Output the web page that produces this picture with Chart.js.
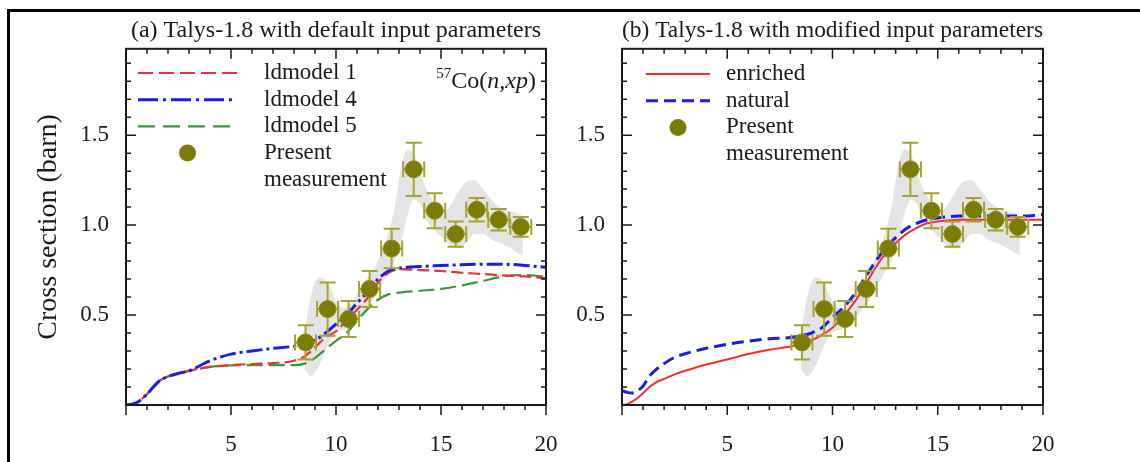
<!DOCTYPE html>
<html>
<head>
<meta charset="utf-8">
<script src="https://cdn.jsdelivr.net/npm/chart.js@4.4.1/dist/chart.umd.min.js"></script>
<style>
    body { margin: 0; background: #fff; }
    #wrap { position: relative; width: 1140px; height: 462px; overflow: hidden; background: #fff; }
    #frame { position: absolute; left: 7px; top: 9px; width: 1200px; height: 600px; border: 3px solid #000; }
    #chartA { position: absolute; left: 0; top: 0; }
    #chartB { position: absolute; left: 570px; top: 0; }
</style>
</head>
<body>
<div id="wrap">
    <div id="frame"></div>
    <canvas id="chartA" width="600" height="462"></canvas>
    <canvas id="chartB" width="570" height="462"></canvas>
</div>
<script>
// Измерение: энергия (МэВ), сечение (барн), погрешности
const expE   = [8.55, 9.6, 10.6, 11.6, 12.65, 13.7, 14.7, 15.7, 16.7, 17.75, 18.8];
const expXS  = [0.348, 0.533, 0.478, 0.645, 0.87, 1.31, 1.08, 0.95, 1.085, 1.03, 0.99];
const expDXS = [0.095, 0.148, 0.10, 0.10, 0.11, 0.148, 0.097, 0.07, 0.065, 0.06, 0.055];
const expDE  = [0.5, 0.5, 0.5, 0.5, 0.5, 0.5, 0.5, 0.5, 0.5, 0.5, 0.5];

// Серая полоса неопределённости
const bandE  = [8.5, 8.8, 9.2, 9.6, 10.0, 10.4, 10.8, 11.2, 11.6, 12.0, 12.4, 12.8, 13.1, 13.4, 13.7, 14.0, 14.3, 14.6, 15.0, 15.4, 15.8, 16.2, 16.6, 17.0, 17.4, 17.8, 18.2, 18.6, 18.9];
const bandHi = [0.40, 0.60, 0.71, 0.68, 0.58, 0.54, 0.58, 0.66, 0.72, 0.80, 0.92, 1.10, 1.32, 1.42, 1.40, 1.30, 1.20, 1.14, 1.07, 1.10, 1.18, 1.24, 1.25, 1.20, 1.14, 1.10, 1.08, 1.07, 1.05];
const bandLo = [0.20, 0.16, 0.22, 0.33, 0.40, 0.42, 0.45, 0.50, 0.56, 0.63, 0.72, 0.80, 0.90, 1.05, 1.14, 1.12, 1.03, 0.98, 0.94, 0.89, 0.87, 0.90, 0.95, 0.95, 0.92, 0.90, 0.88, 0.85, 0.83];

// (a) Talys-1.8, параметры по умолчанию
const gridA = [0, 0.3, 0.6, 1.0, 1.3, 1.6, 2.0, 2.5, 3.0, 4.0, 5.0, 6.0, 7.0, 8.0, 8.5, 9.0, 9.5, 10.0, 10.5, 11.0, 11.5, 12.0, 12.5, 13.0, 14.0, 15.0, 16.0, 17.0, 18.0, 19.0, 20.0];
const ld1 = [0, 0.005, 0.02, 0.06, 0.10, 0.135, 0.158, 0.176, 0.19, 0.212, 0.222, 0.228, 0.233, 0.246, 0.27, 0.32, 0.376, 0.41, 0.47, 0.53, 0.595, 0.68, 0.735, 0.755, 0.75, 0.745, 0.735, 0.728, 0.72, 0.715, 0.705];
const ld4 = [0, 0.005, 0.02, 0.06, 0.10, 0.135, 0.158, 0.176, 0.19, 0.246, 0.283, 0.30, 0.315, 0.326, 0.335, 0.36, 0.40, 0.45, 0.50, 0.565, 0.63, 0.70, 0.745, 0.76, 0.77, 0.775, 0.78, 0.782, 0.782, 0.776, 0.765];
const ld5 = [0, 0.005, 0.02, 0.06, 0.10, 0.135, 0.158, 0.176, 0.19, 0.212, 0.22, 0.222, 0.222, 0.222, 0.23, 0.262, 0.31, 0.357, 0.40, 0.468, 0.533, 0.585, 0.615, 0.625, 0.635, 0.645, 0.665, 0.69, 0.715, 0.722, 0.712];

// (b) Talys-1.8, изменённые параметры
const gridB = [0, 0.25, 0.5, 0.75, 1.0, 1.3, 1.6, 2.0, 2.5, 3.0, 4.0, 5.0, 6.0, 7.0, 8.0, 8.5, 9.0, 9.5, 10.0, 10.5, 11.0, 11.5, 12.0, 12.5, 13.0, 13.5, 14.0, 14.5, 15.0, 16.0, 17.0, 18.0, 19.0, 20.0];
const enriched = [0, 0.005, 0.02, 0.04, 0.065, 0.10, 0.125, 0.145, 0.17, 0.19, 0.225, 0.253, 0.283, 0.307, 0.325, 0.34, 0.36, 0.39, 0.43, 0.49, 0.565, 0.655, 0.755, 0.84, 0.90, 0.95, 0.985, 1.01, 1.02, 1.03, 1.03, 1.03, 1.03, 1.03];
const natural  = [0.08, 0.07, 0.067, 0.08, 0.105, 0.16, 0.195, 0.23, 0.265, 0.285, 0.315, 0.337, 0.355, 0.368, 0.375, 0.385, 0.40, 0.43, 0.487, 0.54, 0.61, 0.70, 0.79, 0.87, 0.93, 0.98, 1.01, 1.03, 1.04, 1.05, 1.05, 1.05, 1.05, 1.06];

// Подписи осей
const xTickVals = [5, 10, 15, 20];
const yTickVals = [0.5, 1.0, 1.5];
const yTitle = 'Cross section (barn)';
const titleA = '(a) Talys-1.8 with default input parameters';
const titleB = '(b) Talys-1.8 with modified input parameters';

const FONT = '"Liberation Serif", "Times New Roman", serif';
const INK = '#1a1a1a';

const pts = (xs, ys) => xs.map((x, i) => ({x: x, y: ys[i]}));

// Рамка и засечки на всех четырёх сторонах
const axesBox = {
    id: 'axesBox',
    afterDatasetsDraw(chart) {
        const {ctx, chartArea: a, scales: {x, y}} = chart;
        ctx.save();
        ctx.strokeStyle = INK;
        ctx.lineWidth = 1.5;
        ctx.beginPath();
        for (let v = 0; v <= 20; v++) {
            const px = x.getPixelForValue(v);
            const len = v % 5 === 0 ? 10 : 5;
            ctx.moveTo(px, a.bottom); ctx.lineTo(px, a.bottom + len);
            ctx.moveTo(px, a.top); ctx.lineTo(px, a.top + len);
        }
        for (let i = 0; i <= 19; i++) {
            const py = y.getPixelForValue(i / 10);
            const len = i % 5 === 0 ? 10 : 5;
            ctx.moveTo(a.left, py); ctx.lineTo(a.left + len, py);
            ctx.moveTo(a.right, py); ctx.lineTo(a.right - len, py);
        }
        ctx.stroke();
        ctx.lineWidth = 2;
        ctx.strokeRect(a.left, a.top, a.right - a.left, a.bottom - a.top);
        ctx.restore();
    }
};

// Погрешности рисуются перед точками
const errorBars = {
    id: 'errorBars',
    beforeDatasetDraw(chart, args) {
        const ds = chart.data.datasets[args.index];
        if (!ds.errY) return;
        const {ctx, scales: {x, y}} = chart;
        const c = 8;
        ctx.save();
        ctx.strokeStyle = ds.errColor;
        ctx.lineWidth = 2;
        ds.data.forEach((p, i) => {
            const px = x.getPixelForValue(p.x);
            const py = y.getPixelForValue(p.y);
            const y1 = y.getPixelForValue(p.y + ds.errY[i]);
            const y2 = y.getPixelForValue(p.y - ds.errY[i]);
            const x1 = x.getPixelForValue(p.x - ds.errX[i]);
            const x2 = x.getPixelForValue(p.x + ds.errX[i]);
            ctx.beginPath();
            ctx.moveTo(px, y1); ctx.lineTo(px, y2);
            ctx.moveTo(px - c, y1); ctx.lineTo(px + c, y1);
            ctx.moveTo(px - c, y2); ctx.lineTo(px + c, y2);
            ctx.moveTo(x1, py); ctx.lineTo(x2, py);
            ctx.moveTo(x1, py - c); ctx.lineTo(x1, py + c);
            ctx.moveTo(x2, py - c); ctx.lineTo(x2, py + c);
            ctx.stroke();
        });
        ctx.restore();
    }
};

// Легенда внутри графика (есть двухстрочная подпись)
const innerLegend = {
    id: 'innerLegend',
    afterDraw(chart, args, opts) {
        if (!opts.items) return;
        const ctx = chart.ctx;
        ctx.save();
        ctx.font = '23px ' + FONT;
        ctx.textBaseline = 'middle';
        let row = 0;
        opts.items.forEach(it => {
            const ds = chart.data.datasets[it.ds];
            const yy = opts.y + row * opts.dy;
            if (ds.showLine === false) {
                ctx.beginPath();
                ctx.fillStyle = ds.pointBackgroundColor;
                ctx.arc((opts.x0 + opts.x1) / 2, yy, ds.pointRadius, 0, Math.PI * 2);
                ctx.fill();
            } else {
                ctx.beginPath();
                ctx.strokeStyle = ds.borderColor;
                ctx.lineWidth = ds.borderWidth;
                ctx.setLineDash(it.dash || ds.borderDash || []);
                ctx.moveTo(opts.x0, yy);
                ctx.lineTo(opts.x1, yy);
                ctx.stroke();
                ctx.setLineDash([]);
            }
            ctx.fillStyle = INK;
            it.text.forEach(line => {
                ctx.fillText(line, opts.tx, opts.y + row * opts.dy);
                row++;
            });
        });
        ctx.restore();
    }
};

// Обозначение реакции 57Co(n,xp)
const reaction = {
    id: 'reaction',
    afterDraw(chart, args, opts) {
        if (!opts.show) return;
        const ctx = chart.ctx;
        const parts = [
            {t: '57', f: '15px ' + FONT, dy: -10},
            {t: 'Co(', f: '24px ' + FONT, dy: 0},
            {t: 'n,xp', f: 'italic 24px ' + FONT, dy: 0},
            {t: ')', f: '24px ' + FONT, dy: 0}
        ];
        ctx.save();
        ctx.fillStyle = INK;
        ctx.textBaseline = 'alphabetic';
        let w = 0;
        parts.forEach(p => { ctx.font = p.f; w += ctx.measureText(p.t).width; });
        let xx = opts.right - w;
        parts.forEach(p => {
            ctx.font = p.f;
            ctx.fillText(p.t, xx, opts.baseline + p.dy);
            xx += ctx.measureText(p.t).width;
        });
        ctx.restore();
    }
};

function pointsDataset() {
    return {
        label: 'Present measurement',
        data: pts(expE, expXS),
        errY: expDXS,
        errX: expDE,
        errColor: '#a3a332',
        showLine: false,
        pointRadius: 8.5,
        pointHoverRadius: 8.5,
        pointBackgroundColor: '#7b7b06',
        pointBorderColor: '#8e8e22',
        pointBorderWidth: 1
    };
}

function bandDatasets() {
    return [{
        label: 'band hi',
        data: pts(bandE, bandHi),
        borderWidth: 0,
        pointRadius: 0,
        cubicInterpolationMode: 'monotone',
        backgroundColor: 'rgba(205, 205, 205, 0.55)',
        fill: '+1'
    }, {
        label: 'band lo',
        data: pts(bandE, bandLo),
        borderWidth: 0,
        pointRadius: 0,
        cubicInterpolationMode: 'monotone',
        fill: false
    }];
}

function curve(label, xs, ys, color, width, dash) {
    return {
        label: label,
        data: pts(xs, ys),
        borderColor: color,
        borderWidth: width,
        borderDash: dash,
        pointRadius: 0,
        cubicInterpolationMode: 'monotone',
        fill: false
    };
}

function makeChart(id, datasets, title, yAxisWidth, rightPad, withTitle, legend, showReaction) {
    return new Chart(document.getElementById(id), {
        type: 'line',
        data: {datasets: datasets},
        options: {
            responsive: false,
            animation: false,
            events: [],
            layout: {padding: {left: 0, right: rightPad, top: 0, bottom: 0}},
            plugins: {
                legend: {display: false},
                tooltip: {enabled: false},
                title: {
                    display: true,
                    text: title,
                    fullSize: false,
                    color: INK,
                    font: {family: FONT, size: 24, weight: 'normal'},
                    padding: {top: 16, bottom: 4}
                },
                innerLegend: legend,
                reaction: {show: showReaction, right: 536, baseline: 88}
            },
            scales: {
                x: {
                    type: 'linear',
                    min: 0,
                    max: 20,
                    grid: {display: false, drawTicks: false},
                    border: {display: false},
                    ticks: {
                        stepSize: 5,
                        autoSkip: false,
                        maxRotation: 0,
                        padding: 26,
                        color: INK,
                        font: {family: FONT, size: 23},
                        callback: v => xTickVals.includes(v) ? String(v) : ''
                    },
                    afterFit: s => { s.height = 57; }
                },
                y: {
                    type: 'linear',
                    min: 0,
                    max: 1.98,
                    grid: {display: false, drawTicks: false},
                    border: {display: false},
                    ticks: {
                        stepSize: 0.5,
                        autoSkip: false,
                        padding: 17,
                        color: INK,
                        font: {family: FONT, size: 23},
                        callback: v => yTickVals.includes(v) ? v.toFixed(1) : ''
                    },
                    title: {
                        display: withTitle,
                        text: yTitle,
                        color: INK,
                        font: {family: FONT, size: 28},
                        padding: {top: 32, bottom: 0}
                    },
                    afterFit: s => { s.width = yAxisWidth; }
                }
            }
        },
        plugins: [errorBars, axesBox, innerLegend, reaction]
    });
}

// Панель (a)
const dsA = [
    pointsDataset(),
    curve('ldmodel 4', gridA, ld4, '#1c1ce8', 3, [16, 4, 3, 4]),
    curve('ldmodel 1', gridA, ld1, '#ee3030', 2.2, [12, 5]),
    curve('ldmodel 5', gridA, ld5, '#3c963c', 2.2, [16, 6])
].concat(bandDatasets());

makeChart('chartA', dsA, titleA, 126, 54, true, {
    x0: 138, x1: 237, tx: 264, y: 73, dy: 26.7,
    items: [
        {ds: 2, text: ['ldmodel 1'], dash: [15, 6]},
        {ds: 1, text: ['ldmodel 4'], dash: [20, 5, 3, 5]},
        {ds: 3, text: ['ldmodel 5'], dash: [17, 8]},
        {ds: 0, text: ['Present', 'measurement']}
    ]
}, true);

// Панель (b)
const dsB = [
    pointsDataset(),
    curve('natural', gridB, natural, '#1c1ce8', 3, [12, 6]),
    curve('enriched', gridB, enriched, '#f03030', 2, [])
].concat(bandDatasets());

makeChart('chartB', dsB, titleB, 52, 97, false, {
    x0: 76, x1: 140, tx: 156, y: 74, dy: 26.7,
    items: [
        {ds: 2, text: ['enriched']},
        {ds: 1, text: ['natural']},
        {ds: 0, text: ['Present', 'measurement']}
    ]
}, false);
</script>
</body>
</html>
